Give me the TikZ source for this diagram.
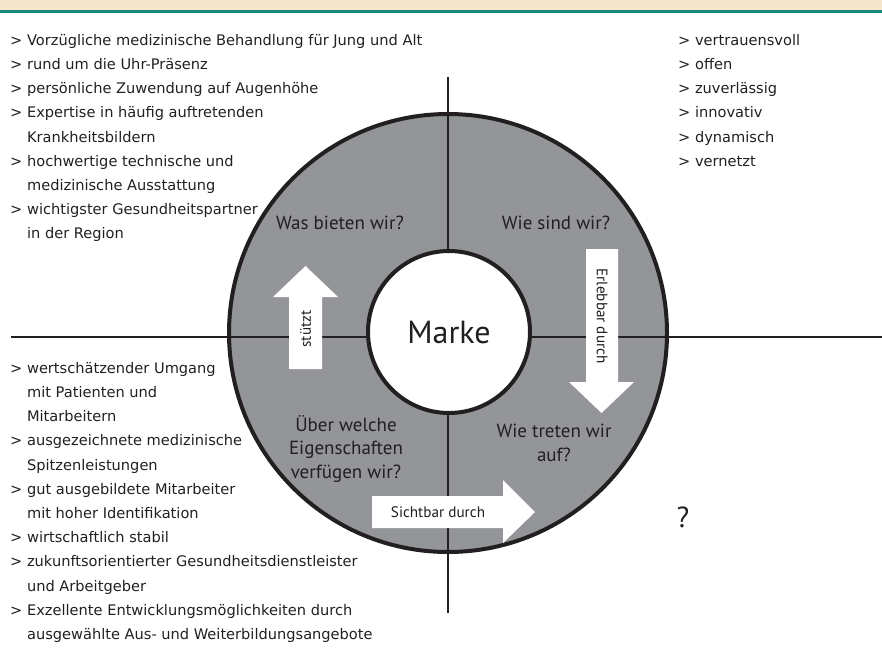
\documentclass[tikz,border=0pt]{standalone}
\usepackage{fontspec}
\setmainfont{DejaVu Sans}
\newfontfamily\pts{PT Sans}
\usetikzlibrary{positioning}

\definecolor{bandbeige}{HTML}{F6E6CB}
\definecolor{bandteal}{HTML}{17877A}
\definecolor{ringgray}{HTML}{939598}
\definecolor{ink}{HTML}{231F20}

\newcommand{\gtitem}{> }
\newcommand{\gtcont}{\phantom{> }}

\tikzset{
  listtext/.style={anchor=north west, inner sep=0pt, align=left, text=ink,
    font=\fontsize{14.6}{24.2}\selectfont},
  question/.style={inner sep=0pt, align=center, text=ink,
    font=\pts\fontsize{19}{23.5}\selectfont},
  arrowlabel/.style={inner sep=0pt, text=ink, font=\pts\fontsize{15.2}{16}\selectfont},
  axis/.style={draw=ink, line width=2.6pt},
}

\begin{document}
\begin{tikzpicture}[x=1pt, y=-1pt]
  \useasboundingbox (0,0) rectangle (882,654);
  % header band
  \fill[bandbeige] (0,0) rectangle (882,10);
  \fill[bandteal] (0,10) rectangle (882,13);

  % ring and axes
  \node[circle, draw=ink, fill=ringgray, line width=4pt, minimum size=438pt] (ring) at (448,333) {};
  \coordinate (axtop) at (448,77);
  \coordinate (axbot) at (448,613);
  \coordinate (axleft) at (11,337);
  \coordinate (axright) at (882,337);
  \draw[axis] (axtop) -- (axbot);
  \draw[axis] (axleft) -- (axright);
  \node[circle, draw=ink, fill=white, line width=4pt, minimum size=162pt,
        font=\pts\fontsize{32}{34}\selectfont, text=ink] (marke) at (449,332) {Marke};

  % block arrows
  \fill[white] (289,369) -- (289,297) -- (273,297) -- (305.5,266) -- (338,297)
    -- (322,297) -- (322,369) -- cycle;
  \fill[white] (586,249) -- (586,382) -- (569,382) -- (601.5,413) -- (634,382)
    -- (618,382) -- (618,249) -- cycle;
  \fill[white] (372,496) -- (503,496) -- (503,480) -- (535,512) -- (503,543)
    -- (503,528) -- (372,528) -- cycle;
  \node[arrowlabel, rotate=90] (stuetzt) at (305.5,329) {stützt};
  \node[arrowlabel, rotate=-90] (erlebbar) at (602,316) {Erlebbar durch};
  \node[arrowlabel] (sichtbar) at (438,512) {Sichtbar durch};

  % quadrant questions
  \node[question] (bieten) at (340,223) {Was bieten wir?};
  \node[question] (sind) at (556,223) {Wie sind wir?};
  \node[question] (eigen) at (346,449) {Über welche\\Eigenschaften\\verfügen wir?};
  \node[question] (treten) at (554,443) {Wie treten wir\\auf?};
  \node[text=ink, inner sep=0pt, font=\pts\fontsize{29}{30}\selectfont] (frage) at (683,517) {?};

  % lists
  \node[listtext] (leistung) at (10,34) {%
    \gtitem Vorzügliche medizinische Behandlung für Jung und Alt\\
    \gtitem rund um die Uhr-Präsenz\\
    \gtitem persönliche Zuwendung auf Augenhöhe\\
    \gtitem Expertise in häufig auftretenden\\
    \gtcont Krankheitsbildern\\
    \gtitem hochwertige technische und\\
    \gtcont medizinische Ausstattung\\
    \gtitem wichtigster Gesundheitspartner\\
    \gtcont in der Region};
  \node[listtext] (werte) at (678,34) {%
    \gtitem vertrauensvoll\\
    \gtitem offen\\
    \gtitem zuverlässig\\
    \gtitem innovativ\\
    \gtitem dynamisch\\
    \gtitem vernetzt};
  \node[listtext] (eigenschaften) at (10,362) {%
    \gtitem wertschätzender Umgang\\
    \gtcont mit Patienten und\\
    \gtcont Mitarbeitern\\
    \gtitem ausgezeichnete medizinische\\
    \gtcont Spitzenleistungen\\
    \gtitem gut ausgebildete Mitarbeiter\\
    \gtcont mit hoher Identifikation\\
    \gtitem wirtschaftlich stabil\\
    \gtitem zukunftsorientierter Gesundheitsdienstleister\\
    \gtcont und Arbeitgeber\\
    \gtitem Exzellente Entwicklungsmöglichkeiten durch\\
    \gtcont ausgewählte Aus- und Weiterbildungsangebote};
\end{tikzpicture}
\end{document}
